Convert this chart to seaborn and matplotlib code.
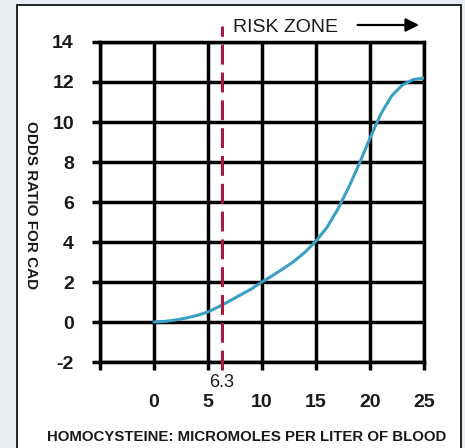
import matplotlib
matplotlib.use("Agg")
import matplotlib.pyplot as plt
from matplotlib.patches import Rectangle
import seaborn as sns

# homocysteine level (micromoles per liter) vs odds ratio for CAD
hcy = [0, 1, 2, 3, 4, 5, 6.3, 7, 8, 9, 10, 11, 12, 13, 14, 15,
       16, 17, 18, 19, 20, 21, 22, 23, 24, 25]
odds = [0, 0.03, 0.1, 0.2, 0.33, 0.5, 0.85, 1.05, 1.35, 1.65, 2.0, 2.33,
        2.68, 3.05, 3.5, 4.05, 4.72, 5.62, 6.7, 7.9, 9.2, 10.4, 11.3, 11.85,
        12.12, 12.2]

x_ticks = [-5, 0, 5, 10, 15, 20, 25]
x_tick_labels = ["", "0", "5", "10", "15", "20", "25"]
y_ticks = [-2, 0, 2, 4, 6, 8, 10, 12, 14]
risk_cutoff = 6.3

sns.set_style("ticks")
fam = ["Liberation Sans Narrow", "Liberation Sans", "DejaVu Sans"]
plt.rcParams["font.family"] = ["Liberation Sans", "DejaVu Sans"]
plt.rcParams["axes.unicode_minus"] = False

fig = plt.figure(figsize=(4.65, 4.48), dpi=100)
fig.set_facecolor("#e8ecf1")
fig.patches.append(Rectangle((17 / 465, -0.05), (461 - 17) / 465, 1.05 - 5 / 448,
                             transform=fig.transFigure, facecolor="white",
                             edgecolor="black", lw=1.2, zorder=-5))

ax = fig.add_axes([100 / 465, 1 - 362 / 448, 324 / 465, 320 / 448])
ax.set_facecolor("white")

sns.lineplot(x=hcy, y=odds, ax=ax, color="#3a9fc3", linewidth=2.2, zorder=3)

ax.set_xlim(-5, 25)
ax.set_ylim(-2, 14)
ax.set_xticks(x_ticks)
ax.set_xticklabels(x_tick_labels)
ax.set_yticks(y_ticks)
ax.grid(True, color="black", linewidth=2.5)
ax.set_axisbelow(True)
for s in ax.spines.values():
    s.set_color("black")
    s.set_linewidth(2.5)
ax.tick_params(axis="both", direction="out", length=5.8, width=2.5, color="black",
               labelsize=14, labelcolor="#1a1a1a")
ax.tick_params(axis="x", pad=17)
ax.tick_params(axis="y", pad=13)
for lab in ax.get_xticklabels() + ax.get_yticklabels():
    lab.set_fontweight("bold")

# risk cutoff line
ax.plot([risk_cutoff, risk_cutoff], [-2.4, 14.8], color="#a8183f", linewidth=2.2,
        dashes=(6.5, 2.6), clip_on=False, zorder=4)
ax.text(risk_cutoff, -3.0, "6.3", ha="center", va="center", fontsize=13,
        color="#1a1a1a")
ax.text(7.3, 14.75, "RISK ZONE", ha="left", va="center", fontsize=14,
        color="#1a1a1a", clip_on=False)
ax.annotate("", xy=(24.8, 14.85), xytext=(18.6, 14.85),
            arrowprops=dict(arrowstyle="-|>", lw=1.6, color="black",
                            mutation_scale=20),
            annotation_clip=False)

ax.set_xlabel("")
ax.set_ylabel("")
fig.text(247 / 465, 1 - 437 / 448, "HOMOCYSTEINE: MICROMOLES PER LITER OF BLOOD",
         ha="center", va="center", fontsize=10.8, fontweight="bold",
         family=fam, color="#1a1a1a")
fig.text(31 / 465, 1 - 205 / 448, "ODDS RATIO FOR CAD", ha="center", va="center",
         rotation=270, fontsize=11, fontweight="bold", family=fam, color="#1a1a1a")

fig.savefig("out.png", dpi=100, facecolor=fig.get_facecolor())
